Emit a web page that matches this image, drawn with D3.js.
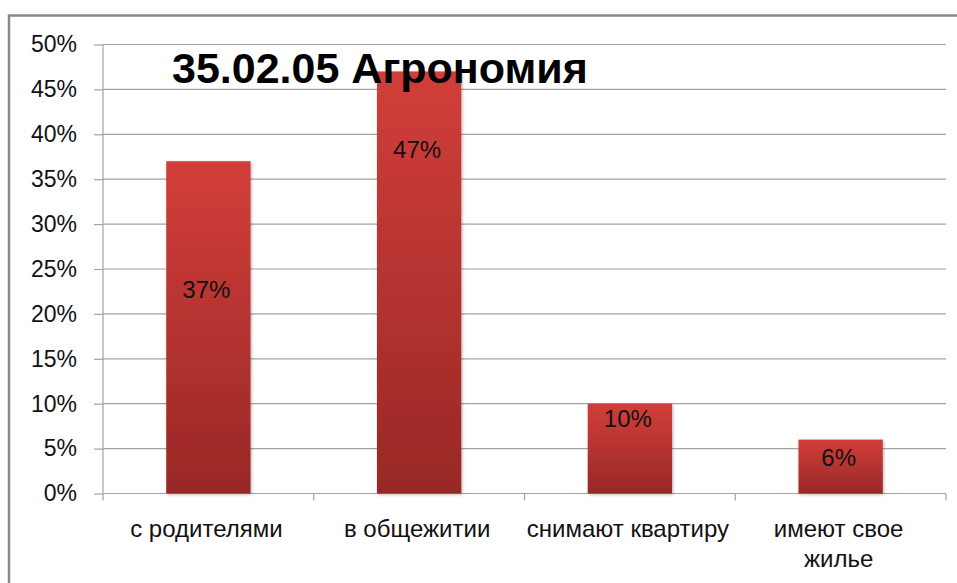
<!DOCTYPE html>
<html>
<head>
<meta charset="utf-8">
<script src="https://cdn.jsdelivr.net/npm/d3@7"></script>
<style>
  body { margin: 0; background: #fff; }
  svg { display: block; font-family: "Liberation Sans", Arial, sans-serif; }
</style>
</head>
<body>
<div class="svg-container"></div>
<script>
// data
let title = "35.02.05 Агрономия";
let categories = ["с родителями", "в общежитии", "снимают квартиру", "имеют свое\nжилье"];
let values = [0.37, 0.47, 0.10, 0.06];
let yTicks = [0, 0.05, 0.10, 0.15, 0.20, 0.25, 0.30, 0.35, 0.40, 0.45, 0.50];
// where the value labels sit inside the bars (in value units, baseline)
let labelAt = [0.218, 0.374, 0.074, 0.031];

let width = 957;
let height = 583;
let plot = { left: 103, right: 946, top: 44.5, bottom: 493.5 };

let svg = d3.select(".svg-container")
    .append("svg")
    .attr("width", width)
    .attr("height", height);

let defs = svg.append("defs");

let grad = defs.append("linearGradient")
    .attr("id", "barGrad")
    .attr("x1", 0).attr("y1", 0).attr("x2", 0).attr("y2", 1);
grad.append("stop").attr("offset", "0%").attr("stop-color", "#d23e3a");
grad.append("stop").attr("offset", "100%").attr("stop-color", "#982826");

let shadow = defs.append("filter")
    .attr("id", "barShadow")
    .attr("x", "-20%").attr("y", "-20%")
    .attr("width", "140%").attr("height", "140%");
shadow.append("feDropShadow")
    .attr("dx", 1).attr("dy", 1)
    .attr("stdDeviation", 1.6)
    .attr("flood-color", "#000")
    .attr("flood-opacity", 0.3);

// outer frame (runs off the right and bottom edges)
svg.append("rect")
    .attr("x", 9).attr("y", 15.5)
    .attr("width", 960).attr("height", 580)
    .attr("fill", "#fff")
    .attr("stroke", "#8a8a8a")
    .attr("stroke-width", 2.5);

let x = d3.scaleBand()
    .domain(categories)
    .range([plot.left, plot.right])
    .padding(0);

let y = d3.scaleLinear()
    .domain([0, 0.5])
    .range([plot.bottom, plot.top]);

// gridlines
svg.append("g")
    .selectAll("line")
    .data(yTicks.slice(1))
    .enter()
    .append("line")
    .attr("x1", plot.left)
    .attr("x2", plot.right)
    .attr("y1", d => y(d))
    .attr("y2", d => y(d))
    .attr("stroke", "#a3a3a3")
    .attr("stroke-width", 1.2);

// y axis
let yAxis = svg.append("g")
    .attr("transform", "translate(" + plot.left + ",0)")
    .call(d3.axisLeft(y)
        .tickValues(yTicks)
        .tickFormat(d3.format(".0%"))
        .tickSize(9)
        .tickPadding(17));
yAxis.selectAll("line, path").attr("stroke", "#a3a3a3").attr("stroke-width", 1.2);
yAxis.select(".domain").attr("d", "M0," + plot.top + "V" + plot.bottom);
yAxis.selectAll("text")
    .attr("fill", "#111")
    .style("font-size", "23px");

// x axis line + boundary ticks
let xAxis = svg.append("g");
xAxis.append("line")
    .attr("x1", plot.left).attr("x2", plot.right)
    .attr("y1", plot.bottom).attr("y2", plot.bottom)
    .attr("stroke", "#a3a3a3").attr("stroke-width", 1.2);
xAxis.selectAll("line.tick")
    .data(categories.map(c => x(c)).concat([plot.right]))
    .enter()
    .append("line")
    .attr("class", "tick")
    .attr("x1", d => d).attr("x2", d => d)
    .attr("y1", plot.bottom).attr("y2", plot.bottom + 7)
    .attr("stroke", "#a3a3a3").attr("stroke-width", 1.2);

// category labels
xAxis.selectAll("text")
    .data(categories)
    .enter()
    .append("text")
    .attr("text-anchor", "middle")
    .attr("fill", "#111")
    .style("font-size", "24px")
    .each(function(d) {
        let t = d3.select(this);
        d.split("\n").forEach((line, i) => {
            t.append("tspan")
                .attr("x", x(d) + x.bandwidth() / 2 - 2)
                .attr("y", 537 + i * 30)
                .text(line);
        });
    });

// bars
let barW = x.bandwidth() * 0.4;
svg.append("g")
    .selectAll("rect")
    .data(values)
    .enter()
    .append("rect")
    .attr("x", (d, i) => x(categories[i]) + (x.bandwidth() - barW) / 2)
    .attr("y", d => y(d))
    .attr("width", barW)
    .attr("height", d => y(0) - y(d))
    .attr("fill", "url(#barGrad)")
    .attr("filter", "url(#barShadow)");

// value labels
svg.append("g")
    .selectAll("text")
    .data(values)
    .enter()
    .append("text")
    .attr("x", (d, i) => x(categories[i]) + x.bandwidth() / 2 - 2)
    .attr("y", (d, i) => y(labelAt[i]))
    .attr("text-anchor", "middle")
    .attr("fill", "#111")
    .style("font-size", "24px")
    .text(d => d3.format(".0%")(d));

// title
svg.append("text")
    .attr("x", 172)
    .attr("y", 83)
    .attr("fill", "#000")
    .style("font-size", "43px")
    .style("font-weight", "bold")
    .text(title);
</script>
</body>
</html>
